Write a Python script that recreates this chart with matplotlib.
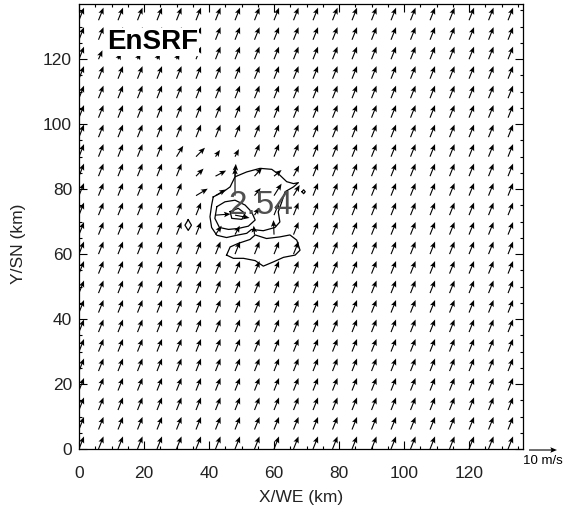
import numpy as np
import matplotlib.pyplot as plt
from matplotlib.ticker import MultipleLocator

# wind vectors are drawn every 6 km
x_km = np.arange(0, 133, 6)
y_km = np.arange(0, 133, 6)

# mean flow (m/s)
u_mean = 1.8
v_mean = 4.5

# arrows that differ from the mean flow: grid column, grid row, u, v
odd_col = [1, 2, 3, 4, 5, 5, 6, 7, 8,
           6, 7, 8, 9, 10, 11,
           6, 7, 8, 9, 10, 11,
           7, 8, 9,
           7, 8, 9, 10]
odd_row = [20, 20, 20, 20, 20, 15, 15, 15, 15,
           14, 14, 14, 14, 14, 14,
           13, 13, 13, 13, 13, 13,
           12, 12, 12,
           11, 11, 11, 11]
odd_u = [1.4, 1.1, 1.1, 1.1, 1.1, 2.4, 3.2, 1.6, 1.4,
         2.7, 3.8, 0.3, 2.7, 2.7, 2.0,
         4.2, 3.7, 0.0, 2.2, 2.7, 2.2,
         5.4, 5.2, 1.7,
         2.2, 1.7, -0.3, -0.2]
odd_v = [3.2, 2.2, 2.2, 2.2, 2.2, 3.9, 3.2, 2.4, 2.7,
         2.7, 2.0, 4.4, 3.0, 2.2, 3.8,
         2.5, 2.2, 10.0, 2.7, 4.3, 3.8,
         0.4, -1.0, 2.7,
         3.2, 3.2, 3.2, 5.2]

# contour outlines (km)
outer_x = [41.3, 44.4, 46.5, 48.0, 51.6, 55.7, 59.3, 61.8, 63.9, 66.0, 67.5, 66.0, 63.4,
           62.4, 61.3, 61.8, 60.3, 56.7, 53.1, 51.6, 48.5, 45.4, 42.4, 40.8, 40.3, 40.8, 41.3]
outer_y = [77.6, 79.2, 80.7, 83.8, 85.3, 86.4, 86.1, 84.3, 82.3, 81.7, 82.0, 80.7, 79.2,
           76.1, 73.0, 69.9, 68.2, 67.2, 67.6, 66.4, 65.8, 65.1, 65.8, 68.2, 71.5, 75.1, 77.6]
inner_x = [42.4, 44.9, 48.0, 51.1, 53.1, 54.2, 52.1, 49.0, 46.0, 43.2, 41.8, 42.4]
inner_y = [74.6, 76.1, 76.6, 75.1, 73.0, 70.5, 68.6, 67.9, 67.6, 68.2, 71.0, 74.6]
core_x = [46.5, 49.0, 51.1, 50.1, 47.0, 46.5]
core_y = [73.1, 74.1, 72.5, 70.7, 71.0, 73.1]
south_x = [45.4, 46.5, 49.0, 52.6, 54.2, 57.7, 61.8, 64.9, 67.0, 68.0, 66.5, 62.9,
           59.8, 56.7, 54.2, 50.6, 47.5, 45.4]
south_y = [59.7, 62.2, 63.3, 64.5, 65.9, 64.8, 65.3, 65.9, 64.3, 61.2, 59.7, 59.0,
           57.6, 56.3, 58.0, 58.7, 58.7, 59.7]
west_x = [33.6, 34.6, 33.6, 32.6, 33.6]
west_y = [70.6, 68.9, 67.3, 68.9, 70.6]
east_x = [68.6, 69.1, 69.6, 69.1, 68.6]
east_y = [79.2, 79.8, 79.2, 78.6, 79.2]

max_label = '2.54'
panel_name = 'EnSRF'

plt.rcParams['font.family'] = ['Liberation Sans', 'DejaVu Sans']

X, Y = np.meshgrid(x_km, y_km)
U = np.full(X.shape, u_mean)
V = np.full(X.shape, v_mean)
for i, j, u, v in zip(odd_col, odd_row, odd_u, odd_v):
    U[j, i] = u
    V[j, i] = v

fig = plt.figure(figsize=(5.71, 5.14), dpi=100)
ax = fig.add_axes([79 / 571, 65 / 514, 444 / 571, 445 / 514])

q = ax.quiver(X, Y, U, V, angles='xy', scale_units='xy', scale=1.163, pivot='tail',
              width=0.0025, headwidth=5, headlength=6, headaxislength=5, color='black')

for cx, cy in [(outer_x, outer_y), (inner_x, inner_y), (core_x, core_y),
               (south_x, south_y), (west_x, west_y), (east_x, east_y)]:
    ax.plot(cx, cy, color='black', lw=0.9)

ax.text(56.0, 75.0, max_label, fontsize=24, color='#505050', ha='center', va='center',
        family=['Liberation Sans Narrow', 'Liberation Sans', 'DejaVu Sans'])
ax.text(8.6, 125.3, panel_name, fontsize=20, fontweight='bold', ha='left', va='center',
        bbox=dict(facecolor='white', edgecolor='none', pad=1))

ax.quiverkey(q, 543 / 571, (514 - 450) / 514, 10, '10 m/s', labelpos='S',
             coordinates='figure', labelsep=0.05, fontproperties={'size': 9.5})

ax.set_xlim(0, 136.6)
ax.set_ylim(0, 137)
ax.xaxis.set_major_locator(MultipleLocator(20))
ax.yaxis.set_major_locator(MultipleLocator(20))
ax.xaxis.set_minor_locator(MultipleLocator(5))
ax.yaxis.set_minor_locator(MultipleLocator(5))
ax.tick_params(which='both', direction='in', top=True, right=True, width=0.8,
               labelsize=12.5, labelcolor='#222222')
ax.tick_params(which='major', length=5.5)
ax.tick_params(which='minor', length=2.5)
ax.tick_params(axis='x', pad=12)
ax.tick_params(axis='y', pad=5)
for s in ax.spines.values():
    s.set_linewidth(0.9)

ax.set_xlabel('X/WE (km)', fontsize=12.5, color='#222222')
ax.set_ylabel('Y/SN (km)', fontsize=12.5, color='#222222')
ax.xaxis.set_label_coords(0.5, -0.093)
ax.yaxis.set_label_coords(-0.12, 0.46)

plt.savefig('out.png', dpi=100)
